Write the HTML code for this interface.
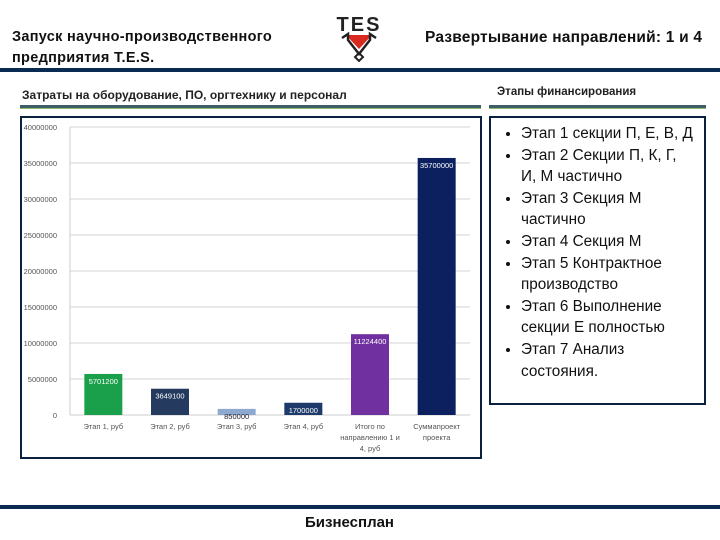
<!DOCTYPE html>
<html><head><meta charset="utf-8"><style>
body{margin:0;width:720px;height:540px;background:#fff;position:relative;overflow:hidden;font-family:"Liberation Sans","DejaVu Sans",sans-serif}
.a{position:absolute}
</style></head><body>
<div class="a" style="left:12px;top:27px;font-size:14.5px;font-weight:bold;line-height:21px;color:#111;letter-spacing:0.3px">Запуск научно-производственного<br>предприятия T.E.S.</div>
<svg class="a" style="left:334px;top:12px" width="50" height="50" viewBox="0 0 50 50">
<text x="25" y="19" text-anchor="middle" font-size="20" font-weight="bold" font-family="Liberation Sans" fill="#222" letter-spacing="2">TES</text>
<polygon points="12,23 38,23 25,37" fill="#d82a20"/>
<polyline points="8,26 14,22 14,28 25,42 36,28 36,22 42,26" fill="none" stroke="#222" stroke-width="2.5"/>
<polygon points="25,41 29,45 25,49 21,45" fill="none" stroke="#222" stroke-width="2"/>
</svg>
<div class="a" style="left:425px;top:29px;font-size:15.5px;font-weight:bold;color:#111;letter-spacing:0.2px">Развертывание направлений: 1 и 4</div>
<div class="a" style="left:0;top:68px;width:720px;height:4px;background:#0b2a52"></div>
<div class="a" style="left:22px;top:88px;font-size:12px;font-weight:bold;color:#222">Затраты на оборудование, ПО, оргтехнику и персонал</div>
<div class="a" style="left:497px;top:86px;font-size:11.5px;font-weight:bold;color:#222">Этапы финансирования</div>
<div class="a" style="left:20px;top:105px;width:461px;height:3px;background:#3d5e66;border-bottom:1px solid #8bb86a"></div>
<div class="a" style="left:489px;top:105px;width:217px;height:3px;background:#3d5e66;border-bottom:1px solid #8bb86a"></div>

<svg class="a" id="chart" style="left:20px;top:116px" width="462" height="343"></svg>

<div class="a" style="left:489px;top:116px;width:213px;height:285px;border:2px solid #0b1f3f;font-size:15.3px;line-height:21.6px;color:#111">
<ul style="margin:5px 0 0 0;padding-left:30px;width:180px;list-style:disc">
<li>Этап 1 секции П, Е, В, Д</li>
<li>Этап 2 Секции П, К, Г,<br>И, М частично</li>
<li>Этап 3 Секция М<br>частично</li>
<li>Этап 4 Секция М</li>
<li>Этап 5 Контрактное<br>производство</li>
<li>Этап 6 Выполнение<br>секции Е полностью</li>
<li>Этап 7 Анализ<br>состояния.</li>
</ul></div>

<div class="a" style="left:0;top:505px;width:720px;height:4px;background:#0b2a52"></div>
<div class="a" style="left:305px;top:514px;font-size:15px;font-weight:bold;color:#111">Бизнесплан</div>

<script>
const categories=[["Этап 1, руб"],["Этап 2, руб"],["Этап 3, руб"],["Этап 4, руб"],["Итого по","направлению 1 и","4, руб"],["Суммапроект","проекта"]];
const values=[5701200,3649100,850000,1700000,11224400,35700000];
const colors=["#1aa04a","#243a5e","#8ea9d0","#1d3a6a","#7030a0","#0c2060"];
const ticks=[0,5000000,10000000,15000000,20000000,25000000,30000000,35000000,40000000];
const svg=document.getElementById('chart');
const NS="http://www.w3.org/2000/svg";
const x0=50,x1=450,yTop=11,yBot=299,maxV=40000000;
function y(v){return yBot-(v/maxV)*(yBot-yTop);}
function xc(i){return x0+(i+0.5)*(x1-x0)/categories.length;}
function mk(t,a){const e=document.createElementNS(NS,t);for(const k in a)e.setAttribute(k,a[k]);svg.appendChild(e);return e;}
const fr=mk('rect',{x:1,y:1,width:460,height:341,fill:'#fff',stroke:'#0b1f3f','stroke-width':2});


ticks.forEach(t=>{
 const l=mk('line',{x1:x0,x2:x1,y1:y(t),y2:y(t),stroke:t===0?'#ccc':'#d4d4d4','stroke-width':1});
 
 
 const tx=mk('text',{x:x0-13,y:y(t)+3,'text-anchor':'end','font-size':7.5,fill:'#555','font-family':'Liberation Sans'});
 tx.textContent=t;
 
 
});
const ax=mk('line',{x1:x0,x2:x0,y1:yTop,y2:yBot,stroke:'#ccc'});


values.forEach((v,i)=>{
 const w=38;
 const r=mk('rect',{x:xc(i)-w/2,y:y(v),width:w,height:yBot-y(v),fill:colors[i]});
 
 
 const lb=mk('text',{x:xc(i),y:y(v)+10,'text-anchor':'middle','font-size':7.5,fill:i===2?'#223':'#fff','font-family':'Liberation Sans'});
 lb.textContent=v;
 
 
 categories[i].forEach((s,j)=>{
  const c=mk('text',{x:xc(i),y:y(0)+14+j*11,'text-anchor':'middle','font-size':7.5,fill:'#555','font-family':'Liberation Sans'});
  c.textContent=s;
  
  
 });
});
</script>
</body></html>
